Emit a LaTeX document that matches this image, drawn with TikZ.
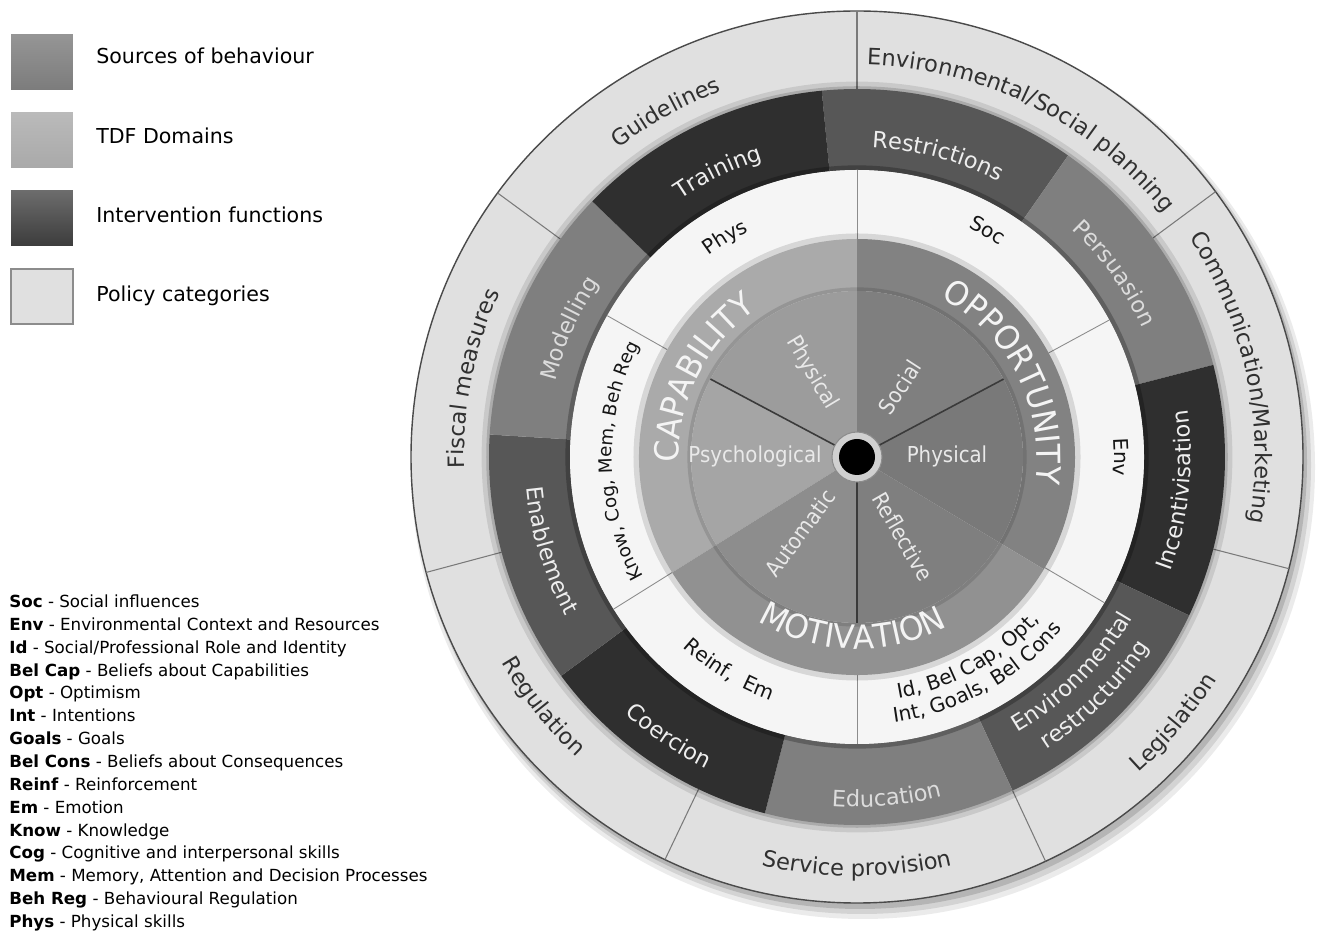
\documentclass[tikz,border=0pt]{standalone}
\usepackage{fontspec}
\setmainfont{DejaVu Sans}
\newfontfamily\srcfamily{DejaVu Sans}[FakeStretch=0.95]
\newfontfamily\condfamily{DejaVu Sans}[FakeStretch=0.9]
\usetikzlibrary{decorations.text,positioning}

% colours
\definecolor{polfill}{HTML}{E0E0E0}
\definecolor{polrim}{HTML}{4A4A4A}
\definecolor{polline}{HTML}{7A7A7A}
\definecolor{polink}{HTML}{303030}
\definecolor{ivdark}{HTML}{2F2F2F}
\definecolor{ivmid}{HTML}{575757}
\definecolor{ivlight}{HTML}{7F7F7F}
\definecolor{ivink}{HTML}{EEEEEE}
\definecolor{ivinksoft}{HTML}{DCDCDC}
\definecolor{tdffill}{HTML}{F5F5F5}
\definecolor{tdfline}{HTML}{8C8C8C}
\definecolor{tdfink}{HTML}{151515}
\definecolor{capfill}{HTML}{AAAAAA}
\definecolor{oppfill}{HTML}{828282}
\definecolor{motfill}{HTML}{919191}
\definecolor{cphysfill}{HTML}{9C9C9C}
\definecolor{cpsyfill}{HTML}{A5A5A5}
\definecolor{autofill}{HTML}{8D8D8D}
\definecolor{reflfill}{HTML}{7F7F7F}
\definecolor{ophysfill}{HTML}{797979}
\definecolor{socfill}{HTML}{7F7F7F}
\definecolor{hubfill}{HTML}{D0D0D0}
\definecolor{spokecol}{HTML}{3A3A3A}
\definecolor{srcink}{HTML}{F4F4F4}
\definecolor{compink}{HTML}{E9E9E9}
\definecolor{swsrcA}{HTML}{959595}
\definecolor{swsrcB}{HTML}{7C7C7C}
\definecolor{swtdfA}{HTML}{BABABA}
\definecolor{swtdfB}{HTML}{A9A9A9}
\definecolor{swivA}{HTML}{6C6C6C}
\definecolor{swivB}{HTML}{3C3C3C}

% fonts
\newcommand{\legfont}{\fontsize{11.7}{14}\selectfont}
\newcommand{\abbrfont}{\fontsize{9.5}{11.5}\selectfont}
\newcommand{\polfont}{\fontsize{12.8}{15}\selectfont}
\newcommand{\ivfont}{\fontsize{12.8}{15}\selectfont}
\newcommand{\tdffont}{\fontsize{11.5}{14}\selectfont}
\newcommand{\tdfsmall}{\fontsize{10.4}{13}\selectfont}
\newcommand{\srcfont}{\srcfamily\fontsize{18.8}{22}\selectfont}
\newcommand{\compfont}{\condfamily\fontsize{12.5}{15}\selectfont}

% ring pieces: colour, inner r, outer r, from, to
\newcommand{\ringseg}[5]{%
  \fill[#1] (#4:#2) arc[start angle=#4, end angle=#5, radius=#2]
    -- (#5:#3) arc[start angle=#5, end angle=#4, radius=#3] -- cycle;}
% pie pieces: colour, r, from, to
\newcommand{\pieseg}[4]{%
  \fill[#1] (0,0) -- (#3:#2) arc[start angle=#3, end angle=#4, radius=#2] -- cycle;}
% curved text, tops outward: colour, font, baseline r, centre angle, text
\newcommand{\outtext}[5]{%
  \path[decorate, decoration={text along path, text align=center,
    text color=#1, text={|#2|#5}}]
    ({#4+45}:#3) arc[start angle={#4+45}, end angle={#4-45}, radius=#3];}
% curved text, tops inward
\newcommand{\intext}[5]{%
  \path[decorate, decoration={text along path, text align=center,
    text color=#1, text={|#2|#5}}]
    ({#4-45}:#3) arc[start angle={#4-45}, end angle={#4+45}, radius=#3];}

\tikzset{
  swatch/.style={minimum width=1.24cm, minimum height=1.1cm, inner sep=0pt},
  legtext/.style={anchor=base west, inner sep=0pt, font=\legfont},
  abbr/.style={anchor=base west, inner sep=0pt, font=\abbrfont},
  comp/.style={text=compink, font=\compfont, inner sep=0pt},
  polsep/.style={draw=polline, line width=0.6pt},
  tdfsep/.style={draw=tdfline, line width=0.5pt},
  spoke/.style={draw=spokecol, line width=0.9pt}
}

\begin{document}
\begin{tikzpicture}[x=0.02cm, y=0.02cm]
\useasboundingbox (0,0) rectangle (1318,933);

% Legend
\node[swatch, top color=swsrcA, bottom color=swsrcB] (swsrc) at (42,870.5) {};
\node[legtext] (lgsrc) at (96,869) {Sources of behaviour};
\node[swatch, top color=swtdfA, bottom color=swtdfB] (swtdf) at (42,792.5) {};
\node[legtext] (lgtdf) at (96,789) {TDF Domains};
\node[swatch, top color=swivA, bottom color=swivB] (swiv) at (42,714.5) {};
\node[legtext] (lgiv) at (96,710) {Intervention functions};
\node[swatch, fill=polfill, draw=tdfline, line width=0.8pt] (swpol) at (42,636.5) {};
\node[legtext] (lgpol) at (96,631) {Policy categories};

% Abbreviations
\node[abbr] (absoc) at (9,325.5) {\textbf{Soc} - Social influences};
\node[abbr] (abenv) at (9,302.6) {\textbf{Env} - Environmental Context and Resources};
\node[abbr] (abid) at (9,279.8) {\textbf{Id} - Social/Professional Role and Identity};
\node[abbr] (abbelcap) at (9,256.9) {\textbf{Bel Cap} - Beliefs about Capabilities};
\node[abbr] (abopt) at (9,234.1) {\textbf{Opt} - Optimism};
\node[abbr] (abint) at (9,211.2) {\textbf{Int} - Intentions};
\node[abbr] (abgoals) at (9,188.4) {\textbf{Goals} - Goals};
\node[abbr] (abbelcons) at (9,165.5) {\textbf{Bel Cons} - Beliefs about Consequences};
\node[abbr] (abreinf) at (9,142.6) {\textbf{Reinf} - Reinforcement};
\node[abbr] (abem) at (9,119.8) {\textbf{Em} - Emotion};
\node[abbr] (abknow) at (9,96.9) {\textbf{Know} - Knowledge};
\node[abbr] (abcog) at (9,74.1) {\textbf{Cog} - Cognitive and interpersonal skills};
\node[abbr] (abmem) at (9,51.2) {\textbf{Mem} - Memory, Attention and Decision Processes};
\node[abbr] (abbehreg) at (9,28.4) {\textbf{Beh Reg} - Behavioural Regulation};
\node[abbr] (abphys) at (9,5.5) {\textbf{Phys} - Physical skills};

\begin{scope}[shift={(857,476)}]
% Drop shadow
\fill[black, opacity=0.08] (6,-10) circle[radius=452];
\fill[black, opacity=0.10] (5,-8) circle[radius=449];
\fill[black, opacity=0.14] (3,-5) circle[radius=447];

% Policy categories
\fill[polfill] (0,0) circle[radius=446];
\draw[polrim, line width=0.8pt] (0,0) circle[radius=446];
\draw[polsep] (90:368) -- (90:446);
\draw[polsep] (36.5:368) -- (36.5:446);
\draw[polsep] (-14.5:368) -- (-14.5:446);
\draw[polsep] (-65:368) -- (-65:446);
\draw[polsep] (-115.5:368) -- (-115.5:446);
\draw[polsep] (195:368) -- (195:446);
\draw[polsep] (143.7:368) -- (143.7:446);
\draw[black, opacity=0.10, line width=5pt] (0,0) circle[radius=371];
\draw[black, opacity=0.15, line width=2pt] (0,0) circle[radius=369];

% Intervention functions
\ringseg{ivmid}{287}{368}{55}{95.5}
\ringseg{ivlight}{287}{368}{14.5}{55}
\ringseg{ivdark}{287}{368}{-25.5}{14.5}
\ringseg{ivmid}{287}{368}{-65}{-25.5}
\ringseg{ivlight}{287}{368}{-104.5}{-65}
\ringseg{ivdark}{287}{368}{-143.5}{-104.5}
\ringseg{ivmid}{287}{368}{176.5}{216.5}
\ringseg{ivlight}{287}{368}{136}{176.5}
\ringseg{ivdark}{287}{368}{95.5}{136}
\draw[black, opacity=0.25, line width=3pt] (0,0) circle[radius=289];

% TDF domains
\fill[tdffill] (0,0) circle[radius=287];
\draw[tdfsep] (90:218) -- (90:287);
\draw[tdfsep] (28.5:218) -- (28.5:287);
\draw[tdfsep] (-30.5:218) -- (-30.5:287);
\draw[tdfsep] (-90:218) -- (-90:287);
\draw[tdfsep] (-148:218) -- (-148:287);
\draw[tdfsep] (150.5:218) -- (150.5:287);
\draw[black, opacity=0.12, line width=4pt] (0,0) circle[radius=220];

% Sources of behaviour
\ringseg{capfill}{166}{218}{90}{212}
\ringseg{oppfill}{166}{218}{-31}{90}
\ringseg{motfill}{166}{218}{-148}{-31}
\draw[black, opacity=0.12, line width=3pt] (0,0) circle[radius=167];

% Components
\pieseg{cphysfill}{166}{90}{152}
\pieseg{cpsyfill}{166}{152}{212}
\pieseg{autofill}{166}{212}{270}
\pieseg{reflfill}{166}{270}{329}
\pieseg{ophysfill}{166}{-31}{28}
\pieseg{socfill}{166}{28}{90}
\draw[spoke] (0,0) -- (152:166);
\draw[spoke] (0,0) -- (28:166);
\draw[spoke] (0,0) -- (-90:166);

% Hub
\fill[hubfill] (0,0) circle[radius=25];
\draw[tdfline, line width=0.6pt] (0,0) circle[radius=25];
\fill[black] (0,0) circle[radius=18];

% Policy category labels
\outtext{polink}{\polfont}{392}{63.5}{Environmental/Social planning}
\outtext{polink}{\polfont}{398}{12}{Communication/Marketing}
\intext{polink}{\polfont}{423}{-40}{Legislation}
\intext{polink}{\polfont}{419}{-90}{Service provision}
\intext{polink}{\polfont}{411}{-141.5}{Regulation}
\outtext{polink}{\polfont}{393}{168.5}{Fiscal measures}
\outtext{polink}{\polfont}{390}{119}{Guidelines}

% Intervention function labels
\outtext{ivink}{\ivfont}{312}{116}{Training}
\outtext{ivink}{\ivfont}{310}{75}{Restrictions}
\outtext{ivinksoft}{\ivfont}{313}{35.5}{Persuasion}
\intext{ivink}{\ivfont}{334}{-6}{Incentivisation}
\intext{ivink}{\ivfont}{319}{-45}{Environmental}
\intext{ivink}{\ivfont}{349}{-45}{restructuring}
\intext{ivinksoft}{\ivfont}{350}{-85}{Education}
\intext{ivink}{\ivfont}{346}{-124}{Coercion}
\intext{ivink}{\ivfont}{332}{197}{Enablement}
\outtext{ivinksoft}{\ivfont}{311}{156}{Modelling}

% TDF labels
\outtext{tdfink}{\tdffont}{250}{121}{Phys}
\outtext{tdfink}{\tdffont}{255}{60}{Soc}
\outtext{tdfink}{\tdffont}{257}{0}{Env}
\intext{tdfink}{\tdffont}{245}{-61}{Id, Bel Cap, Opt,}
\intext{tdfink}{\tdffont}{268}{-61}{Int, Goals, Bel Cons}
\intext{tdfink}{\tdffont}{258}{-121}{Reinf, {\ }Em}
\outtext{tdfink}{\tdfsmall}{245}{181}{Know, Cog, Mem, Beh Reg}

% Source labels
\outtext{srcink}{\srcfont}{178}{153}{CAPABILITY}
\outtext{srcink}{\srcfont}{180}{27}{OPPORTUNITY}
\intext{srcink}{\srcfont}{192}{-91.5}{MOTIVATION}

% Component labels
\node[comp, rotate=-59] (cphys) at (-45,84) {Physical};
\node[comp, rotate=57] (csoc) at (43,70) {Social};
\node[comp] (ophys) at (90,1) {Physical};
\node[comp, rotate=-60] (crefl) at (46,-80) {Reflective};
\node[comp, rotate=54] (cauto) at (-57,-76) {Automatic};
\node[comp] (cpsy) at (-102,1) {Psychological};
\end{scope}
\end{tikzpicture}
\end{document}
